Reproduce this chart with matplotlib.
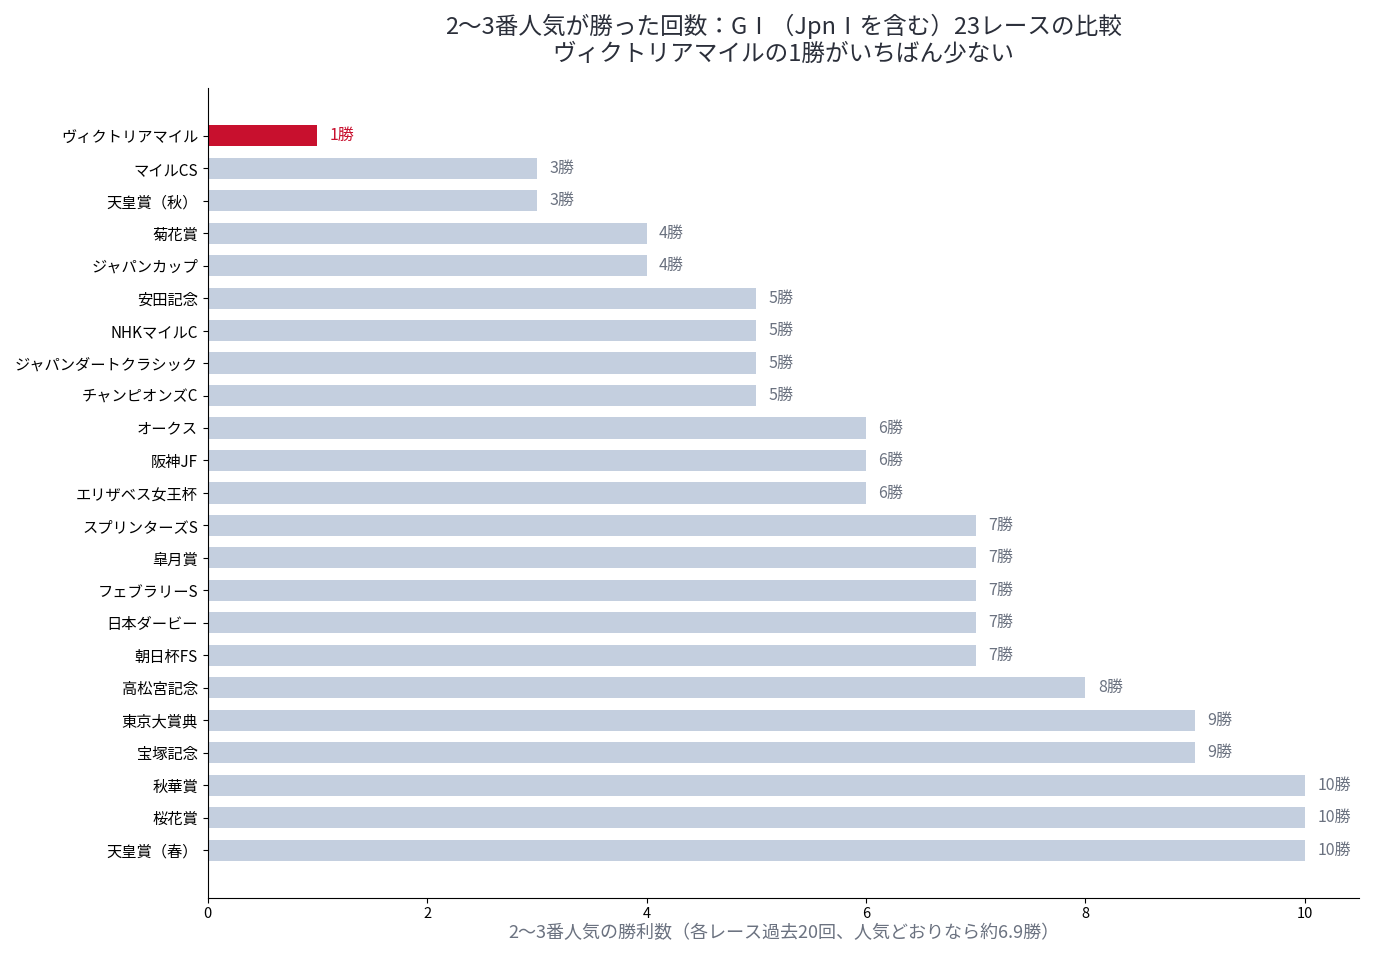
import matplotlib
matplotlib.use("Agg")
import matplotlib.pyplot as plt
import numpy as np

plt.rcParams['font.family'] = ['Noto Sans CJK JP', 'DejaVu Sans']

# 上から順に並べたレース名と勝利数
races = [
    "ヴィクトリアマイル", "マイルCS", "天皇賞（秋）", "菊花賞", "ジャパンカップ",
    "安田記念", "NHKマイルC", "ジャパンダートクラシック", "チャンピオンズC",
    "オークス", "阪神JF", "エリザベス女王杯", "スプリンターズS", "皐月賞",
    "フェブラリーS", "日本ダービー", "朝日杯FS", "高松宮記念", "東京大賞典",
    "宝塚記念", "秋華賞", "桜花賞", "天皇賞（春）",
]
wins = [1, 3, 3, 4, 4, 5, 5, 5, 5, 6, 6, 6, 7, 7, 7, 7, 7, 8, 9, 9, 10, 10, 10]
highlight = "ヴィクトリアマイル"

red = "#C8102E"
grey_bar = "#C4CFDF"
grey_txt = "#6B7280"
dark = "#2B2F3A"

fig, ax = plt.subplots(figsize=(13.76, 9.6), dpi=100)
fig.subplots_adjust(left=0.151, right=0.988, top=0.908, bottom=0.065)

y = np.arange(len(races))
colors = [red if r == highlight else grey_bar for r in races]
ax.barh(y, wins, height=0.65, color=colors)
ax.set_yticks(y)
ax.set_yticklabels(races, fontsize=11)
ax.invert_yaxis()

# 値ラベル
for yi, w, r in zip(y, wins, races):
    c = red if r == highlight else grey_txt
    ax.annotate(f"{w}勝", (w, yi), xytext=(9, 0), textcoords="offset points",
                va="center", ha="left", fontsize=11.5, color=c)

ax.set_xticks([0, 2, 4, 6, 8, 10])
ax.tick_params(axis="x", labelsize=10.5)
ax.set_xlabel("2〜3番人気の勝利数（各レース過去20回、人気どおりなら約6.9勝）",
              fontsize=13, color=grey_txt, labelpad=2)
ax.set_title("2〜3番人気が勝った回数：GⅠ（JpnⅠを含む）23レースの比較\n"
             "ヴィクトリアマイルの1勝がいちばん少ない",
             fontsize=17, color=dark, pad=20)

ax.spines["top"].set_visible(False)
ax.spines["right"].set_visible(False)

fig.savefig("out.png", dpi=100)
